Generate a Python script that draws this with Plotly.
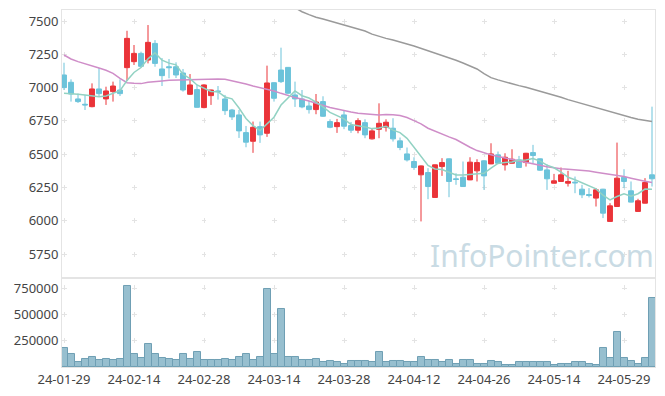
import plotly.graph_objects as go
from plotly.subplots import make_subplots

dates = ["24-01-29","24-01-30","24-01-31","24-02-01","24-02-02","24-02-05","24-02-06","24-02-07","24-02-08","24-02-13",
         "24-02-14","24-02-15","24-02-16","24-02-19","24-02-20","24-02-21","24-02-22","24-02-23","24-02-26","24-02-27",
         "24-02-28","24-02-29","24-03-04","24-03-05","24-03-06","24-03-07","24-03-08","24-03-11","24-03-12","24-03-13",
         "24-03-14","24-03-15","24-03-18","24-03-19","24-03-20","24-03-21","24-03-22","24-03-25","24-03-26","24-03-27",
         "24-03-28","24-03-29","24-04-01","24-04-02","24-04-03","24-04-04","24-04-05","24-04-08","24-04-09","24-04-11",
         "24-04-12","24-04-15","24-04-16","24-04-17","24-04-18","24-04-19","24-04-22","24-04-23","24-04-24","24-04-25",
         "24-04-26","24-04-29","24-04-30","24-05-02","24-05-03","24-05-07","24-05-08","24-05-09","24-05-10","24-05-13",
         "24-05-14","24-05-16","24-05-17","24-05-20","24-05-21","24-05-22","24-05-23","24-05-24","24-05-27","24-05-28",
         "24-05-29","24-05-30","24-05-31","24-06-03","24-06-04"]

open_ = [7095,7040,6915,6875,6857,6990,6915,6970,6982,7150,
         7195,7257,7207,7332,7140,7157,7157,7110,6950,6985,
         6850,6940,6975,6915,6832,6795,6662,6597,6707,6657,
         7037,7132,7152,6945,6915,6862,6835,6895,6745,6707,
         6795,6715,6680,6737,6615,6687,6702,6695,6600,6502,
         6445,6345,6362,6175,6407,6465,6315,6327,6307,6375,
         6450,6427,6495,6420,6432,6457,6437,6512,6465,6382,
         6282,6295,6282,6290,6237,6197,6170,6237,5995,6107,
         6327,6225,6070,6132,6345]
high = [7187,7062,6955,6945,7032,7147,7007,7045,7062,7427,
        7320,7270,7470,7357,7222,7215,7190,7140,7102,7020,
        7025,6985,7012,6945,6840,6832,6712,6745,6745,7165,
        7040,7300,7155,7045,6982,6900,6952,6935,6762,6765,
        6830,6742,6770,6762,6695,6882,6762,6770,6625,6550,
        6477,6415,6395,6422,6470,6468,6357,6445,6477,6462,
        6455,6582,6520,6507,6537,6487,6510,6570,6468,6425,
        6352,6400,6375,6332,6270,6245,6245,6240,6132,6587,
        6387,6295,6165,6320,6857]
low = [6982,6895,6885,6832,6852,6930,6870,6895,6937,7050,
       7170,7150,7182,7157,7012,7070,7072,6970,6945,6850,
       6845,6870,6910,6795,6757,6622,6552,6510,6585,6630,
       6895,7035,6950,6855,6845,6805,6800,6780,6695,6660,
       6688,6660,6657,6620,6610,6620,6670,6595,6530,6445,
       6382,5995,6162,6172,6337,6177,6270,6255,6305,6295,
       6232,6425,6430,6377,6430,6398,6407,6432,6375,6232,
       6280,6293,6257,6207,6170,6175,6107,6020,5992,6105,
       6245,6137,6068,6130,6257]
close = [7000,6952,6895,6870,6990,6955,6975,7012,6955,7370,
         7257,7160,7340,7182,7090,7150,7095,6982,7020,6852,
         7020,6982,6970,6827,6780,6675,6590,6702,6645,7035,
         6920,7045,6958,6915,6855,6835,6892,6785,6702,6737,
         6710,6680,6752,6645,6675,6732,6740,6615,6550,6457,
         6400,6412,6257,6420,6437,6295,6310,6257,6440,6437,
         6337,6502,6432,6477,6462,6400,6507,6490,6380,6315,
         6300,6345,6295,6285,6195,6190,6232,6057,6112,6320,
         6295,6140,6150,6287,6315]
volume = [176000,120000,51000,73000,98000,63000,73000,63000,73000,768000,
          120000,88000,221000,126000,88000,79000,63000,120000,73000,145000,
          63000,70000,70000,79000,63000,98000,126000,70000,98000,745000,
          126000,551000,98000,98000,70000,70000,79000,51000,61000,51000,
          32000,57000,57000,57000,51000,145000,51000,57000,57000,51000,
          51000,98000,70000,70000,44000,63000,32000,70000,70000,32000,
          29000,61000,51000,22000,22000,44000,51000,44000,51000,44000,
          22000,32000,32000,44000,44000,32000,22000,176000,88000,334000,
          88000,61000,32000,88000,655000]
ma5 = [6957,6955,6950,6945,6941,6932,6937,6960,6977,7053,
       7114,7151,7216,7262,7206,7184,7171,7100,7067,7020,
       6994,6971,6969,6930,6916,6847,6768,6715,6678,6729,
       6778,6869,6921,6975,6939,6922,6891,6856,6814,6790,
       6765,6723,6716,6705,6692,6697,6709,6681,6662,6619,
       6552,6487,6415,6389,6385,6364,6344,6344,6348,6348,
       6356,6395,6430,6437,6442,6455,6456,6467,6448,6418,
       6398,6366,6327,6308,6284,6262,6239,6192,6157,6182,
       6203,6185,6203,6238,6237]
ma20 = [7245,7215,7195,7177,7162,7147,7130,7107,7070,7037,
        7032,7030,7040,7047,7050,7055,7057,7060,7062,7062,
        7062,7065,7065,7062,7052,7040,7027,7012,7000,6990,
        6975,6957,6940,6925,6912,6900,6882,6865,6850,6840,
        6827,6817,6807,6802,6798,6795,6798,6797,6790,6775,
        6752,6728,6695,6672,6652,6630,6610,6580,6552,6527,
        6510,6495,6482,6472,6462,6450,6440,6427,6417,6405,
        6395,6390,6387,6383,6378,6373,6365,6357,6350,6340,
        6332,6320,6307,6297,6287]
ma60 = [None]*33 + [7600,7570,7548,7528,7515,7500,7487,
        7472,7458,7442,7425,7402,7384,7370,7357,7345,7328,
        7312,7295,7275,7257,7240,7222,7205,7185,7163,7140,
        7105,7075,7058,7042,7028,7015,7002,6988,6973,6957,
        6943,6928,6910,6895,6877,6860,6845,6830,6820,6805,
        6790,6775,6763,6753,6745]

tick_labels = ["24-01-29","24-02-14","24-02-28","24-03-14","24-03-28",
               "24-04-12","24-04-26","24-05-14","24-05-29"]
price_ticks = [5750, 6000, 6250, 6500, 6750, 7000, 7250, 7500]
volume_ticks = [250000, 500000, 750000]

UP = "#ea3439"
DOWN = "#6cc3da"
GRID = "#e3e3e3"
AXIS = "#e4e4e4"
FONT = dict(family="Noto Sans", size=13, color="#444444")

fig = make_subplots(rows=2, cols=1, shared_xaxes=True, vertical_spacing=0,
                    row_heights=[0.7507, 0.2493])

fig.add_trace(go.Scatter(x=dates, y=ma60, mode="lines", line=dict(color="#9a9a9a", width=1.5),
                         hoverinfo="skip"), row=1, col=1)
fig.add_trace(go.Scatter(x=dates, y=ma20, mode="lines", line=dict(color="#cf8dc8", width=1.5),
                         hoverinfo="skip"), row=1, col=1)
fig.add_trace(go.Scatter(x=dates, y=ma5, mode="lines", line=dict(color="#92d2c3", width=1.5),
                         hoverinfo="skip"), row=1, col=1)
fig.add_trace(go.Candlestick(x=dates, open=open_, high=high, low=low, close=close,
                             increasing=dict(line=dict(color=UP, width=1), fillcolor=UP),
                             decreasing=dict(line=dict(color=DOWN, width=1), fillcolor=DOWN),
                             whiskerwidth=0), row=1, col=1)
fig.add_trace(go.Bar(x=dates, y=volume, width=1.0,
                     marker=dict(color="rgba(140,184,202,0.9)", line=dict(color="#6f9fb4", width=1))),
              row=2, col=1)

xr = [-2/7, 591/7]
fig.update_xaxes(type="category", range=xr, showgrid=True, gridcolor=GRID, gridwidth=1,
                 tickvals=tick_labels, ticktext=tick_labels, showline=True, linecolor=AXIS,
                 mirror=True, ticks="", tickfont=FONT, rangeslider=dict(visible=False))
fig.update_xaxes(griddash="0px,8.5px,5px,19.83px", showticklabels=False, row=1, col=1)
fig.update_xaxes(griddash="0px,7.5px,5px,14px", showticklabels=True, row=2, col=1)

fig.update_yaxes(range=[5570, 7583], tickvals=price_ticks, showgrid=True, gridcolor=GRID,
                 griddash="4.5px,65.5px", showline=True, linecolor=AXIS, mirror=True,
                 zeroline=False, ticks="", tickfont=FONT, row=1, col=1)
fig.update_yaxes(range=[0, 845000], tickvals=volume_ticks, tickformat="d", showgrid=True,
                 gridcolor=GRID, griddash="4.5px,65.5px", showline=True, linecolor=AXIS,
                 mirror=True, zeroline=False, ticks="", tickfont=FONT, row=2, col=1)

fig.add_annotation(text="InfoPointer.com", xref="paper", yref="paper", x=0.618, y=0.3137,
                   xanchor="left", yanchor="middle", showarrow=False,
                   font=dict(family="Noto Sans", size=30, color="#c9dbe4"))

# page body has an 8px default margin: shrink the figure so the plot area lands where the reference has it
fig.update_layout(width=657, height=388, margin=dict(l=54, r=10, t=2, b=29),
                  paper_bgcolor="white", plot_bgcolor="white", showlegend=False,
                  boxgap=0, boxgroupgap=0.3, bargap=0, hovermode=False)

fig.write_html("out.html")
